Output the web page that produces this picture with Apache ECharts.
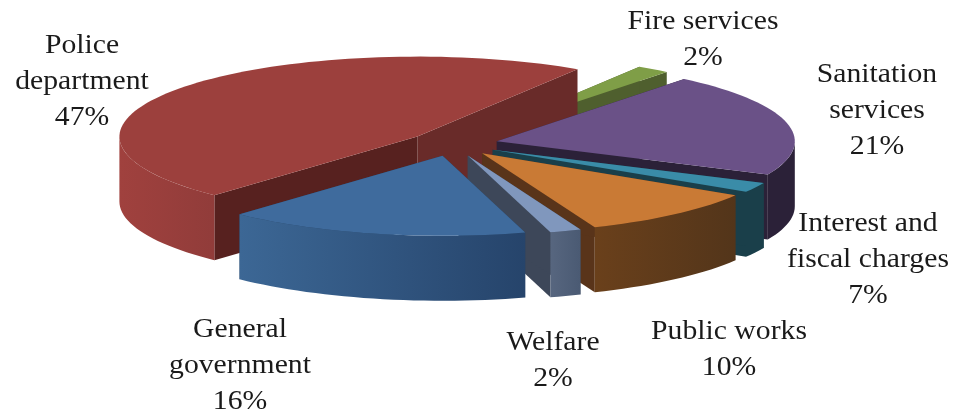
<!DOCTYPE html>
<html>
<head>
<meta charset="utf-8">
<title>Expenditure pie</title>
<script src="https://cdn.jsdelivr.net/npm/echarts@6/dist/echarts.min.js"></script>
<style>
  html, body { margin: 0; padding: 0; background: #fff; }
  #chart { width: 953px; height: 412px; }
</style>
</head>
<body>
<div id="chart"></div>
<script>
const categories = ['Police\ndepartment', 'General\ngovernment', 'Welfare', 'Public works', 'Interest and\nfiscal charges', 'Sanitation\nservices', 'Fire services']
// slice sizes as drawn in the picture
const sliceValues = [47.1, 16.4, 1.7, 10, 2, 21, 1.8]
// percentages as printed on the labels (the printed 7% is wider than its drawn slice)
const printedLabels = ['47%', '16%', '2%', '10%', '7%', '21%', '2%']
const topColors = ['#9c403d', '#3f6b9d', '#8097bd', '#c97a35', '#3a8ca8', '#6a5187', '#7f9e47']
const faceColors = ['#57211f', '#26405f', '#3d4759', '#59341a', '#1a3f4a', '#2b2138', '#4f5f2e']
const startFaceColors = ['#692b29', '#26405f', '#3d4759', '#59341a', '#1a3f4a', '#2b2138', '#4f5f2e']
const wallLeftColors = ['#a0413e', '#3c6795', '#57667f', '#6a401b', '#1a3f4a', '#2b2138', '#4f5f2e']
const wallRightColors = ['#913c3a', '#26446b', '#4a5a73', '#53351a', '#1a3f4a', '#2b2138', '#4f5f2e']
// back to front
const drawOrder = [6, 0, 5, 4, 3, 2, 1]
const labelCenters = [[82, 82], [240, 366], [553, 361], [729, 350], [868, 260], [877, 111], [703, 40]]

const CX = 453
const CY = 144
const RX = 298
const RY = 80
const DEPTH = 65
const EXPLODE = 45
const START_ANGLE = -57.5

const total = sliceValues.reduce((a, b) => a + b, 0)
const toRad = (deg) => deg * Math.PI / 180

// walking order on screen is anticlockwise, so the angle decreases
const sliceAngles = []
let cursor = START_ANGLE
sliceValues.forEach((v) => {
  const sweep = v / total * 360
  sliceAngles.push([cursor, cursor - sweep])
  cursor -= sweep
})

const arcPoints = (ox, oy, from, to, dy) => {
  const pts = []
  const steps = Math.max(2, Math.ceil(Math.abs(to - from) / 2))
  for (let i = 0; i <= steps; i++) {
    const a = toRad(from + (to - from) * i / steps)
    pts.push([ox + RX * Math.cos(a), oy + RY * Math.sin(a) + dy])
  }
  return pts
}

const quad = (a, b, fill) => ({
  type: 'polygon',
  shape: { points: [a, b, [b[0], b[1] + DEPTH], [a[0], a[1] + DEPTH]] },
  style: { fill: fill }
})

const renderSlice = (params, api) => {
  const idx = api.value(0)
  const [from, to] = sliceAngles[idx]
  const mid = toRad((from + to) / 2)
  const ox = CX + EXPLODE * Math.cos(mid)
  const oy = CY + EXPLODE * RY / RX * Math.sin(mid)
  const apex = [ox, oy]
  const rim = arcPoints(ox, oy, from, to, 0)
  const children = []

  // cut faces first, the top and the rim wall cover whatever is hidden
  children.push(quad(apex, rim[0], startFaceColors[idx]))
  children.push(quad(apex, rim[rim.length - 1], faceColors[idx]))

  // outer wall, only the part of the rim that faces the viewer
  const ranges = []
  for (let k = -360; k <= 0; k += 360) {
    const a = Math.max(to, k)
    const b = Math.min(from, k + 180)
    if (b > a) ranges.push([a, b])
  }
  ranges.forEach(([a, b]) => {
    const upper = arcPoints(ox, oy, a, b, 0)
    const lower = arcPoints(ox, oy, b, a, DEPTH)
    children.push({
      type: 'polygon',
      shape: { points: upper.concat(lower) },
      style: {
        fill: {
          type: 'linear', x: 0, y: 0, x2: 1, y2: 0,
          colorStops: [
            { offset: 0, color: wallLeftColors[idx] },
            { offset: 1, color: wallRightColors[idx] }
          ]
        }
      }
    })
  })

  children.push({
    type: 'polygon',
    shape: { points: [apex].concat(rim) },
    style: { fill: topColors[idx] }
  })

  // the original face is wider than Liberation Serif, so stretch a little
  children.push({
    type: 'text',
    z2: 100,
    x: labelCenters[idx][0],
    y: labelCenters[idx][1],
    scaleX: 1.1,
    style: {
      x: 0,
      y: 0,
      text: categories[idx] + '\n' + printedLabels[idx],
      fill: '#1a1a1a',
      font: '27px "Liberation Serif"',
      lineHeight: 36,
      align: 'center',
      verticalAlign: 'middle'
    }
  })

  return { type: 'group', children: children }
}

const chart = echarts.init(document.getElementById('chart'))

chart.setOption({
  backgroundColor: '#fff',
  animation: false,
  series: [
    {
      type: 'custom',
      coordinateSystem: 'none',
      renderItem: renderSlice,
      data: drawOrder.map((i) => [i, sliceValues[i]])
    }
  ]
})

window.addEventListener('resize', () => chart.resize())
</script>
</body>
</html>
